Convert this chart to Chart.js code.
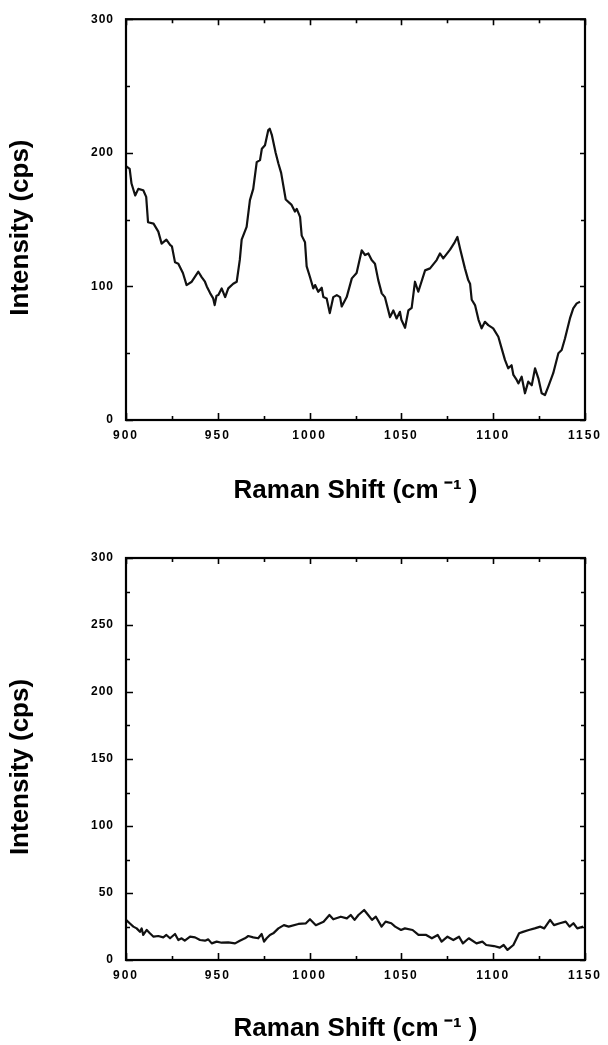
<!DOCTYPE html>
<html>
<head>
<meta charset="utf-8">
<script src="https://cdn.jsdelivr.net/npm/chart.js@4.4.1/dist/chart.umd.min.js"></script>
<style>
  html, body { margin: 0; padding: 0; background: #fff; }
  #wrap { position: relative; width: 608px; height: 1045px; }
  canvas { position: absolute; left: 0; display: block; }
  #top { top: 0; }
  #bottom { top: 522px; }
</style>
</head>
<body>
<div id="wrap">
  <canvas id="top" width="608" height="522"></canvas>
  <canvas id="bottom" width="608" height="523"></canvas>
</div>
<script>
// Raman shift (cm-1) and intensity (cps), upper spectrum
const shiftTop = [900, 902, 903, 905, 906.7, 909.4, 911, 912, 915, 917.6,
  919.4, 922, 924, 925, 926.7, 928.5, 931, 933, 935.8, 939.4,
  941.2, 943, 944, 945.8, 947.5, 948.3, 949.3, 950.3, 952.1, 954,
  955.7, 958.4, 960.3, 962, 963, 965.7, 967.5, 969.3, 971.2, 973,
  974, 975.7, 977.5, 978.3, 979.5, 981.5, 983, 984.5, 987, 990.2,
  992, 993, 994.8, 995.7, 997.5, 998.4, 1000.2, 1002, 1003, 1004.7,
  1006.6, 1007.5, 1009.3, 1011, 1012.9, 1014.8, 1016.6, 1017.5, 1020.2, 1023,
  1025.6, 1028.4, 1030.2, 1032, 1033.8, 1035.6, 1037.4, 1039.3, 1041, 1043.8,
  1045.6, 1047.4, 1049.2, 1050, 1052, 1053.8, 1055.6, 1057.4, 1059.2, 1062.9,
  1065.6, 1069.2, 1071, 1072.8, 1076.5, 1079, 1080.5, 1082, 1084.6, 1086.4,
  1087.4, 1088.3, 1090.1, 1092, 1093.7, 1095.5, 1097.3, 1100, 1102.8, 1104.6,
  1106.4, 1108.2, 1110, 1111, 1112.8, 1113.7, 1115.5, 1117.3, 1119.1, 1121,
  1122.8, 1124.6, 1126.4, 1128.2, 1130, 1132.7, 1135.5, 1137.3, 1139.1, 1141.8,
  1143.6, 1145.5, 1147.3];
const countsTop = [190, 188, 177, 168, 173, 172, 167, 148, 147, 141,
  132, 135, 131, 130, 118, 117, 110, 101, 103.5, 111,
  107, 103.5, 100, 95, 91, 86, 93, 93.5, 98.5, 92,
  98.5, 102, 103.5, 120, 135, 144.6, 164.6, 173, 193, 194.5,
  203, 205.7, 217, 218, 213, 200, 192, 185, 165, 161,
  156, 158, 152, 138, 133, 115, 107, 98.5, 101, 96,
  99, 92, 91, 80, 92, 93.5, 92, 85, 92, 106,
  110, 127, 123.5, 124.7, 119.7, 117, 104.7, 94.8, 92, 77,
  82, 76, 81, 75, 69, 82, 84, 103.5, 96, 112,
  113.5, 119.7, 124.7, 121, 127.5, 133, 137, 128, 113.5, 104.7,
  102, 90, 86, 75, 68.6, 73.5, 71, 68.6, 62.3, 53.6,
  45, 38.7, 41, 33.7, 30, 27.4, 32.4, 20, 28.7, 26,
  38.7, 31.2, 20, 18.7, 25, 35, 50, 52.4, 61, 76,
  83.5, 87.3, 88.5];

// Lower spectrum
const shiftBottom = [900, 902, 904, 905.8, 907.6, 908.5, 909.4, 911.3, 913, 915,
  917.6, 920.3, 922, 924, 926.7, 928.5, 930.3, 932, 934.9, 937.6,
  940.3, 943, 944.8, 946.7, 949.4, 952.1, 955.7, 959.4, 962, 964.8,
  966.6, 969.3, 972, 973.9, 975.2, 976.6, 978.4, 980.2, 983, 986,
  988.6, 993.9, 998, 1000.2, 1003.4, 1007.6, 1010.8, 1012.9, 1017, 1020.3,
  1022.4, 1024.5, 1026.6, 1029.7, 1031.9, 1034, 1036.1, 1039.2, 1041.4, 1044.5,
  1046.6, 1049.8, 1051.9, 1056.1, 1059.3, 1063.5, 1066.6, 1069.8, 1071.9, 1075.1,
  1078.3, 1081.4, 1083.5, 1086.7, 1090.9, 1094.1, 1096.2, 1100.4, 1103.6, 1105.7,
  1107.8, 1111, 1114.1, 1116.2, 1119.4, 1122.6, 1125.7, 1127.8, 1131, 1133.1,
  1136.3, 1139.5, 1141.6, 1143.7, 1145.8, 1149];
const countsBottom = [29.9, 27.4, 24.9, 23.6, 21, 23.6, 18.7, 22.4, 20, 17.4,
  17.9, 16.9, 18.7, 16.2, 19.4, 14.9, 16.2, 14.4, 17.4, 16.9,
  14.9, 14.4, 15.4, 12.4, 13.7, 12.9, 13.2, 12.4, 14.4, 16.2,
  17.9, 16.9, 16.2, 19.4, 13.7, 16.2, 18.7, 19.9, 23.6, 26,
  24.9, 26.9, 27.4, 30.4, 26, 28.6, 33.6, 30.4, 32.3, 31.1,
  33.6, 29.9, 33.6, 37.3, 33.6, 29.9, 32.3, 24.9, 28.6, 27.4,
  24.9, 22.4, 23.6, 22.4, 18.7, 18.7, 16.2, 18.7, 13.7, 17.4,
  14.9, 17.4, 12.4, 16.2, 12.4, 13.7, 11.2, 10.4, 9.2, 11.2,
  7.5, 11.2, 19.9, 21, 22.4, 23.6, 24.9, 23.6, 29.9, 26,
  27.4, 28.6, 24.9, 27.4, 23.6, 24.9];

// Tick labels
const shiftTicks = [900, 950, 1000, 1050, 1100, 1150];
const intensityTicksTop = [0, 100, 200, 300];
const intensityTicksBottom = [0, 50, 100, 150, 200, 250, 300];

const X_TITLE = 'Raman Shift (cm\u2009\u207B\u00B9 )';
const Y_TITLE = 'Intensity (cps)';
const FAMILY = '"Liberation Sans", Arial, Helvetica, sans-serif';
const TITLE_FONT = { family: FAMILY, size: 26, weight: 'bold', lineHeight: 1 };
const TICK_FONT = { family: FAMILY, size: 12, weight: 'bold' };

// Minor ticks sit halfway between labelled ones
function withMinor(major) {
  const out = [];
  major.forEach((v, i) => {
    out.push({ v, major: true });
    if (i < major.length - 1) out.push({ v: (v + major[i + 1]) / 2, major: false });
  });
  return out;
}

// Closed frame with inward tick marks on all four sides, plus the vertical axis title
const framePlugin = {
  id: 'frame',
  afterDatasetsDraw(chart) {
    const { ctx, chartArea: a, scales: { x, y } } = chart;
    const opts = chart.options.plugins.frame;
    const xt = withMinor(opts.xTicks);
    const yt = withMinor(opts.yTicks);
    ctx.save();
    ctx.strokeStyle = '#000';
    ctx.lineWidth = 1.6;
    ctx.beginPath();
    xt.forEach(t => {
      const px = Math.round(x.getPixelForValue(t.v)) + 0.5;
      const lb = t.major ? 7 : 4;
      const lt = t.major ? 6 : 4;
      ctx.moveTo(px, a.bottom); ctx.lineTo(px, a.bottom - lb);
      ctx.moveTo(px, a.top); ctx.lineTo(px, a.top + lt);
    });
    yt.forEach(t => {
      const py = Math.round(y.getPixelForValue(t.v)) + 0.5;
      const ll = t.major ? 7 : 4;
      const lr = t.major ? 5 : 4;
      ctx.moveTo(a.left, py); ctx.lineTo(a.left + ll, py);
      ctx.moveTo(a.right, py); ctx.lineTo(a.right - lr, py);
    });
    ctx.stroke();
    ctx.lineWidth = 2.2;
    ctx.strokeRect(a.left, a.top, a.right - a.left, a.bottom - a.top);

    // vertical title, read bottom to top
    ctx.translate(opts.yTitleX, (a.top + a.bottom) / 2 + opts.yTitleShift);
    ctx.rotate(-Math.PI / 2);
    ctx.font = 'bold 26px ' + FAMILY;
    ctx.fillStyle = '#000';
    ctx.textAlign = 'center';
    ctx.textBaseline = 'middle';
    ctx.fillText(Y_TITLE, 0, 0);
    ctx.restore();
  }
};

// Wider tracking for the tick digits
const spacingPlugin = {
  id: 'tickSpacing',
  afterLayout(chart) {
    const sp = { x: '2px', y: '1px' };
    Object.keys(sp).forEach(id => {
      const s = chart.scales[id];
      if (s && !s._tracked) {
        const orig = s.drawLabels;
        s.drawLabels = function (area) {
          const c = this.ctx;
          c.save();
          c.letterSpacing = sp[id];
          orig.call(this, area);
          c.restore();
        };
        s._tracked = true;
      }
    });
  }
};

function makeChart(id, shifts, counts, yTicks, geo) {
  const points = shifts.map((s, i) => ({ x: s, y: counts[i] }));
  return new Chart(document.getElementById(id), {
    type: 'line',
    data: {
      datasets: [{
        data: points,
        borderColor: '#111',
        borderWidth: 2.2,
        pointRadius: 0,
        tension: 0,
        borderJoinStyle: 'round',
        fill: false
      }]
    },
    options: {
      responsive: false,
      animation: false,
      events: [],
      layout: { padding: { left: 0, right: 23, top: geo.top, bottom: 0 } },
      plugins: {
        legend: { display: false },
        tooltip: { enabled: false },
        frame: { xTicks: shiftTicks, yTicks: yTicks, yTitleX: 21, yTitleShift: 8 }
      },
      scales: {
        x: {
          type: 'linear',
          min: 900, max: 1150,
          afterBuildTicks: s => { s.ticks = shiftTicks.map(v => ({ value: v })); },
          afterFit: s => { s.height = geo.xHeight; },
          grid: { display: false, drawTicks: false },
          border: { display: false },
          ticks: {
            color: '#000', font: TICK_FONT, padding: 8, maxRotation: 0, autoSkip: false,
            callback: v => String(v)
          },
          title: { display: true, text: X_TITLE, color: '#000', font: TITLE_FONT, padding: { top: 0, bottom: geo.xTitlePad } }
        },
        y: {
          min: 0, max: 300,
          afterBuildTicks: s => { s.ticks = yTicks.map(v => ({ value: v })); },
          afterFit: s => { s.width = 126; },
          grid: { display: false, drawTicks: false },
          border: { display: false },
          ticks: {
            color: '#000', font: TICK_FONT, padding: 12, autoSkip: false,
            callback: v => String(v)
          },
          title: { display: false }
        }
      }
    },
    plugins: [framePlugin, spacingPlugin]
  });
}

makeChart('top', shiftTop, countsTop, intensityTicksTop, { top: 19, xHeight: 102, xTitlePad: 18 });
makeChart('bottom', shiftBottom, countsBottom, intensityTicksBottom, { top: 36, xHeight: 85, xTitlePad: 3 });
</script>
</body>
</html>
